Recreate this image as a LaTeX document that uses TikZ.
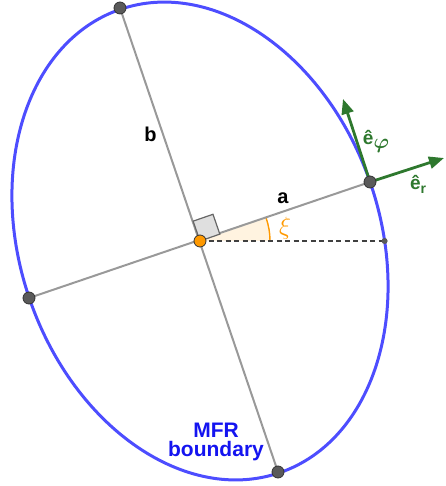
\documentclass[tikz,border=0pt]{standalone}
\usepackage{amsmath}
\usepackage{fontspec}
\setmainfont{Liberation Sans}
\usetikzlibrary{arrows.meta,calc}
\definecolor{ellblue}{RGB}{77,77,255}
\definecolor{txtblue}{RGB}{20,20,240}
\definecolor{vecgreen}{RGB}{46,120,46}
\definecolor{angorange}{RGB}{255,153,0}
\definecolor{axisgray}{RGB}{153,153,153}
\definecolor{ptgray}{RGB}{90,90,90}
\newcommand{\mysubsc}[2]{\raisebox{-4pt}{\fontsize{#1}{#1}\selectfont #2}}
\tikzset{
  axisline/.style={draw=axisgray, line width=2pt},
  ptdot/.style={circle, fill=ptgray, draw=black!80, line width=0.8pt, inner sep=0pt, minimum size=12pt},
  smalldot/.style={circle, fill=ptgray, inner sep=0pt, minimum size=6pt},
  vecarrow/.style={draw=vecgreen, line width=2.8pt, -{Triangle[length=15pt,width=12pt]}},
  lbl/.style={font=\fontsize{20}{22}\selectfont\bfseries},
  veclbl/.style={text=vecgreen, font=\fontsize{19}{21}\selectfont\bfseries},
  bndlbl/.style={text=txtblue, align=center, inner sep=1pt, font=\fontsize{21}{19}\selectfont\bfseries}
}
\begin{document}
\begin{tikzpicture}[x=1pt,y=1pt]
\useasboundingbox (0,0) rectangle (445,486);
\coordinate (C) at (200,245);
\coordinate (B1) at (120,478);
\coordinate (B2) at (278,14);
\coordinate (A1) at (370,304);
\coordinate (A2) at (29,188);
\coordinate (H) at (384.6,245);
\coordinate (ER) at (444,328);
\coordinate (EP) at (343,387);
% sector
\fill[angorange, fill opacity=0.12] (C) -- ++(0:70) arc[start angle=0, end angle=19.1, radius=70] -- cycle;
\draw[angorange, line width=1.4pt] (C) ++(0:70) arc[start angle=0, end angle=19.1, radius=70];
% ellipse
\draw[ellblue, line width=3pt, rotate around={19.1:(C)}] (C) ellipse [x radius=180, y radius=245];
% axes
\draw[axisline] (B1) -- (B2);
\draw[axisline] (A2) -- (A1);
% right angle
\draw[fill=gray!25, draw=gray!80!black, line width=1.2pt] (C) -- ++(19.1:21) -- ++(109.1:21) -- ++(199.1:21) -- cycle;
% dashed
\draw[black!75, line width=1.6pt, dash pattern=on 5pt off 3.5pt] (C) -- (H);
% vectors
\draw[vecarrow] (A1) -- (ER);
\draw[vecarrow] (A1) -- (EP);
% points
\node[ptdot] (pB1) at (B1) {};
\node[ptdot] (pB2) at (B2) {};
\node[ptdot] (pA1) at (A1) {};
\node[ptdot] (pA2) at (A2) {};
\node[smalldot] (pH) at (H) {};
\node[circle, fill=angorange, draw=black!80, line width=0.8pt, inner sep=0pt, minimum size=12pt] (pC) at (C) {};
% labels
\node[lbl] (la) at (283,288) {a};
\node[lbl] (lb) at (150.5,352) {b};
\node[text=angorange, font=\fontsize{25}{27}\selectfont] (lxi) at (285,258) {$\xi$};
\node[veclbl] (lep) at (376,345) {ê\mysubsc{20}{$\boldsymbol{\varphi}$}};
\node[veclbl] (ler) at (418,302) {ê\mysubsc{14}{r}};
\node[bndlbl] (lm) at (216,44) {MFR\\boundary};
\end{tikzpicture}
\end{document}
